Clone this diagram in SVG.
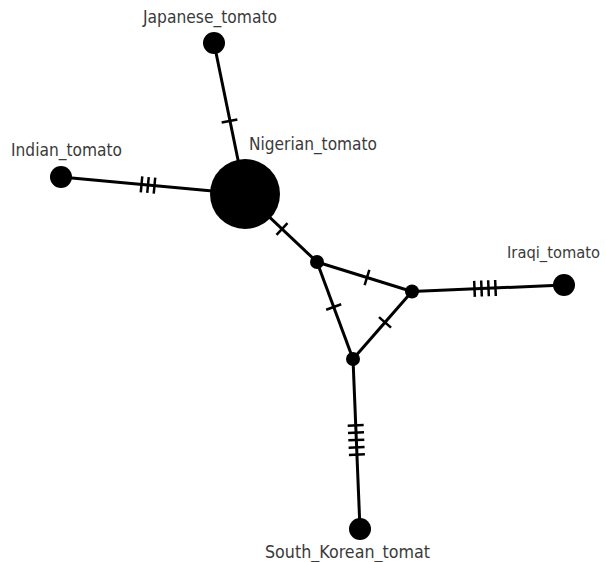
<svg xmlns="http://www.w3.org/2000/svg" xmlns:xlink="http://www.w3.org/1999/xlink" width="606" height="562" viewBox="0 0 606 562">
<style>
.edge{stroke:#000;stroke-width:3;fill:none}
.tick{stroke:#000;stroke-width:2.5}
.node{fill:#000}
.lbl{font-family:"DejaVu Sans",sans-serif;font-size:17.5px;fill:#3a3a3a}
</style>
<defs>
<line id="tick" class="tick" x1="0" y1="-8" x2="0" y2="8"/>
</defs>
<rect width="606" height="562" fill="#fff"/>
<g id="connectors">
<line class="edge" x1="214" y1="43" x2="245" y2="194"/>
<line class="edge" x1="61" y1="177" x2="245" y2="194"/>
<line class="edge" x1="245" y1="194" x2="317" y2="262"/>
<line class="edge" x1="317" y1="262" x2="412" y2="291.5"/>
<line class="edge" x1="317" y1="262" x2="353" y2="359"/>
<line class="edge" x1="412" y1="291.5" x2="353" y2="359"/>
<line class="edge" x1="412" y1="291.5" x2="564" y2="285"/>
<line class="edge" x1="353" y1="359" x2="360" y2="529"/>
<g transform="translate(229.5,121) rotate(78.8)"><use xlink:href="#tick"/></g>
<g transform="translate(148,185) rotate(5.3)"><use xlink:href="#tick" x="-6.5"/><use xlink:href="#tick"/><use xlink:href="#tick" x="6.5"/></g>
<g transform="translate(282,229) rotate(43.4)"><use xlink:href="#tick"/></g>
<g transform="translate(367,277.5) rotate(17.25)"><use xlink:href="#tick"/></g>
<g transform="translate(333.7,307) rotate(69.6)"><use xlink:href="#tick"/></g>
<g transform="translate(385,322.4) rotate(131.2)"><use xlink:href="#tick"/></g>
<g transform="translate(485,288.4) rotate(-2.45)"><use xlink:href="#tick" x="-10.5"/><use xlink:href="#tick" x="-3.5"/><use xlink:href="#tick" x="3.5"/><use xlink:href="#tick" x="10.5"/></g>
<g transform="translate(356.3,440) rotate(87.6)"><use xlink:href="#tick" x="-14.6"/><use xlink:href="#tick" x="-7.3"/><use xlink:href="#tick"/><use xlink:href="#tick" x="7.3"/><use xlink:href="#tick" x="14.6"/></g>
</g>
<g id="japanese"><circle class="node" cx="214" cy="43" r="11"/><text class="lbl" x="143" y="23" textLength="134" lengthAdjust="spacingAndGlyphs">Japanese_tomato</text></g>
<g id="indian"><circle class="node" cx="61" cy="177" r="11"/><text class="lbl" x="11" y="156" textLength="111" lengthAdjust="spacingAndGlyphs">Indian_tomato</text></g>
<g id="nigerian"><circle class="node" cx="245" cy="194" r="35"/><text class="lbl" x="249" y="150" textLength="128" lengthAdjust="spacingAndGlyphs">Nigerian_tomato</text></g>
<g id="median1"><circle class="node" cx="317" cy="262" r="7"/></g>
<g id="median2"><circle class="node" cx="412" cy="291.5" r="7"/></g>
<g id="median3"><circle class="node" cx="353" cy="359" r="7"/></g>
<g id="iraqi"><circle class="node" cx="564" cy="285" r="11"/><text class="lbl" x="507" y="258" style="font-size:15px" textLength="93" lengthAdjust="spacingAndGlyphs">Iraqi_tomato</text></g>
<g id="southkorean"><circle class="node" cx="360" cy="529" r="11"/><text class="lbl" x="265" y="558" textLength="165" lengthAdjust="spacingAndGlyphs">South_Korean_tomat</text></g>
</svg>
